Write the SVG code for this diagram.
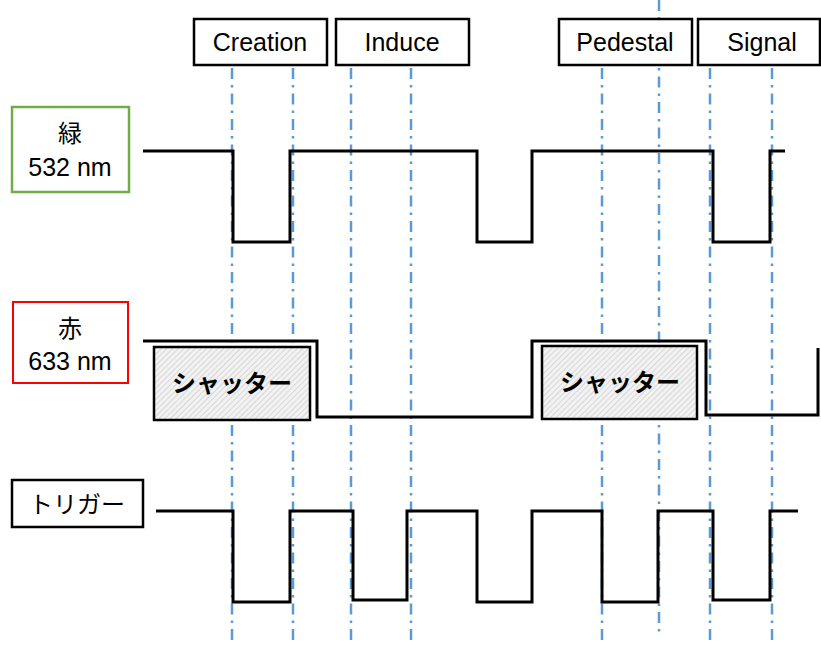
<svg xmlns="http://www.w3.org/2000/svg" width="821" height="645" viewBox="0 0 821 645">
<style>
.lbl{font-family:"Liberation Sans","Noto Sans CJK JP",sans-serif;font-size:25px;fill:#000;text-anchor:middle}
.jp{font-family:"Noto Sans CJK JP",sans-serif;font-size:24px;fill:#000;text-anchor:middle}
.box{fill:#fff;stroke:#000;stroke-width:2.5}
.guide{fill:none;stroke:#5B9BD5;stroke-width:2.5;stroke-dasharray:11 6 2.5 6}
.sig{fill:none;stroke:#000;stroke-width:3;stroke-linejoin:miter}
.shut{fill:url(#hatch);stroke:#000;stroke-width:2.5}
</style>
<defs>
<pattern id="hatch" width="4" height="4" patternUnits="userSpaceOnUse" patternTransform="rotate(45)">
<rect width="4" height="4" fill="#f2f2f2"/>
<line x1="0" y1="0" x2="0" y2="4" stroke="#bdbdbd" stroke-width="1"/>
</pattern>
</defs>
<rect width="821" height="645" fill="#fff"/>
<g id="connectors">
<line class="guide" x1="232" y1="68" x2="232" y2="640"/>
<line class="guide" x1="293" y1="68" x2="293" y2="640"/>
<line class="guide" x1="351" y1="68" x2="351" y2="640"/>
<line class="guide" x1="411" y1="68" x2="411" y2="640"/>
<line class="guide" x1="602" y1="68" x2="602" y2="645"/>
<line class="guide" x1="659" y1="0" x2="659" y2="633"/>
<line class="guide" x1="710" y1="68" x2="710" y2="645"/>
<line class="guide" x1="772" y1="68" x2="772" y2="645"/>
</g>
<g id="creation"><rect class="box" x="194" y="19" width="133" height="46"/><text class="lbl" x="260" y="51">Creation</text></g>
<g id="induce"><rect class="box" x="336" y="19" width="133" height="46"/><text class="lbl" x="402" y="51">Induce</text></g>
<g id="pedestal"><rect class="box" x="559" y="19" width="133" height="46"/><text class="lbl" x="625" y="51">Pedestal</text></g>
<g id="signal"><rect class="box" x="698" y="19" width="122" height="46"/><text class="lbl" x="762" y="51">Signal</text></g>
<g id="green"><rect x="12" y="107" width="117" height="85" fill="#fff" stroke="#70AD47" stroke-width="2.5"/><text class="jp" x="70" y="142">緑</text><text class="lbl" x="70" y="176">532 nm</text></g>
<g id="red"><rect x="13" y="302" width="115" height="81" fill="#fff" stroke="#FF0000" stroke-width="2"/><text class="jp" x="70" y="337">赤</text><text class="lbl" x="70" y="370">633 nm</text></g>
<g id="trigger"><rect class="box" x="12" y="480" width="131" height="47"/><text class="jp" x="77" y="513">トリガー</text></g>
<g id="green-signal"><path class="sig" d="M143,151 H233 V242 H290 V151 H477 V242 H532 V151 H713 V242 H770 V151 H785"/></g>
<g id="red-signal"><path class="sig" d="M143,341 H317 V417 H532 V341 H706 V415 H818 V348"/></g>
<g id="shutter1"><rect class="shut" x="154" y="347" width="156" height="73"/><text class="jp" x="232" y="392" font-weight="bold">シャッター</text></g>
<g id="shutter2"><rect class="shut" x="542" y="346" width="155" height="73"/><text class="jp" x="620" y="391" font-weight="bold">シャッター</text></g>
<g id="trigger-signal"><path class="sig" d="M156,511 H233 V602 H290 V511 H353 V600 H407 V511 H477 V602 H532 V511 H602 V602 H658 V511 H713 V600 H770 V511 H798"/></g>
</svg>
